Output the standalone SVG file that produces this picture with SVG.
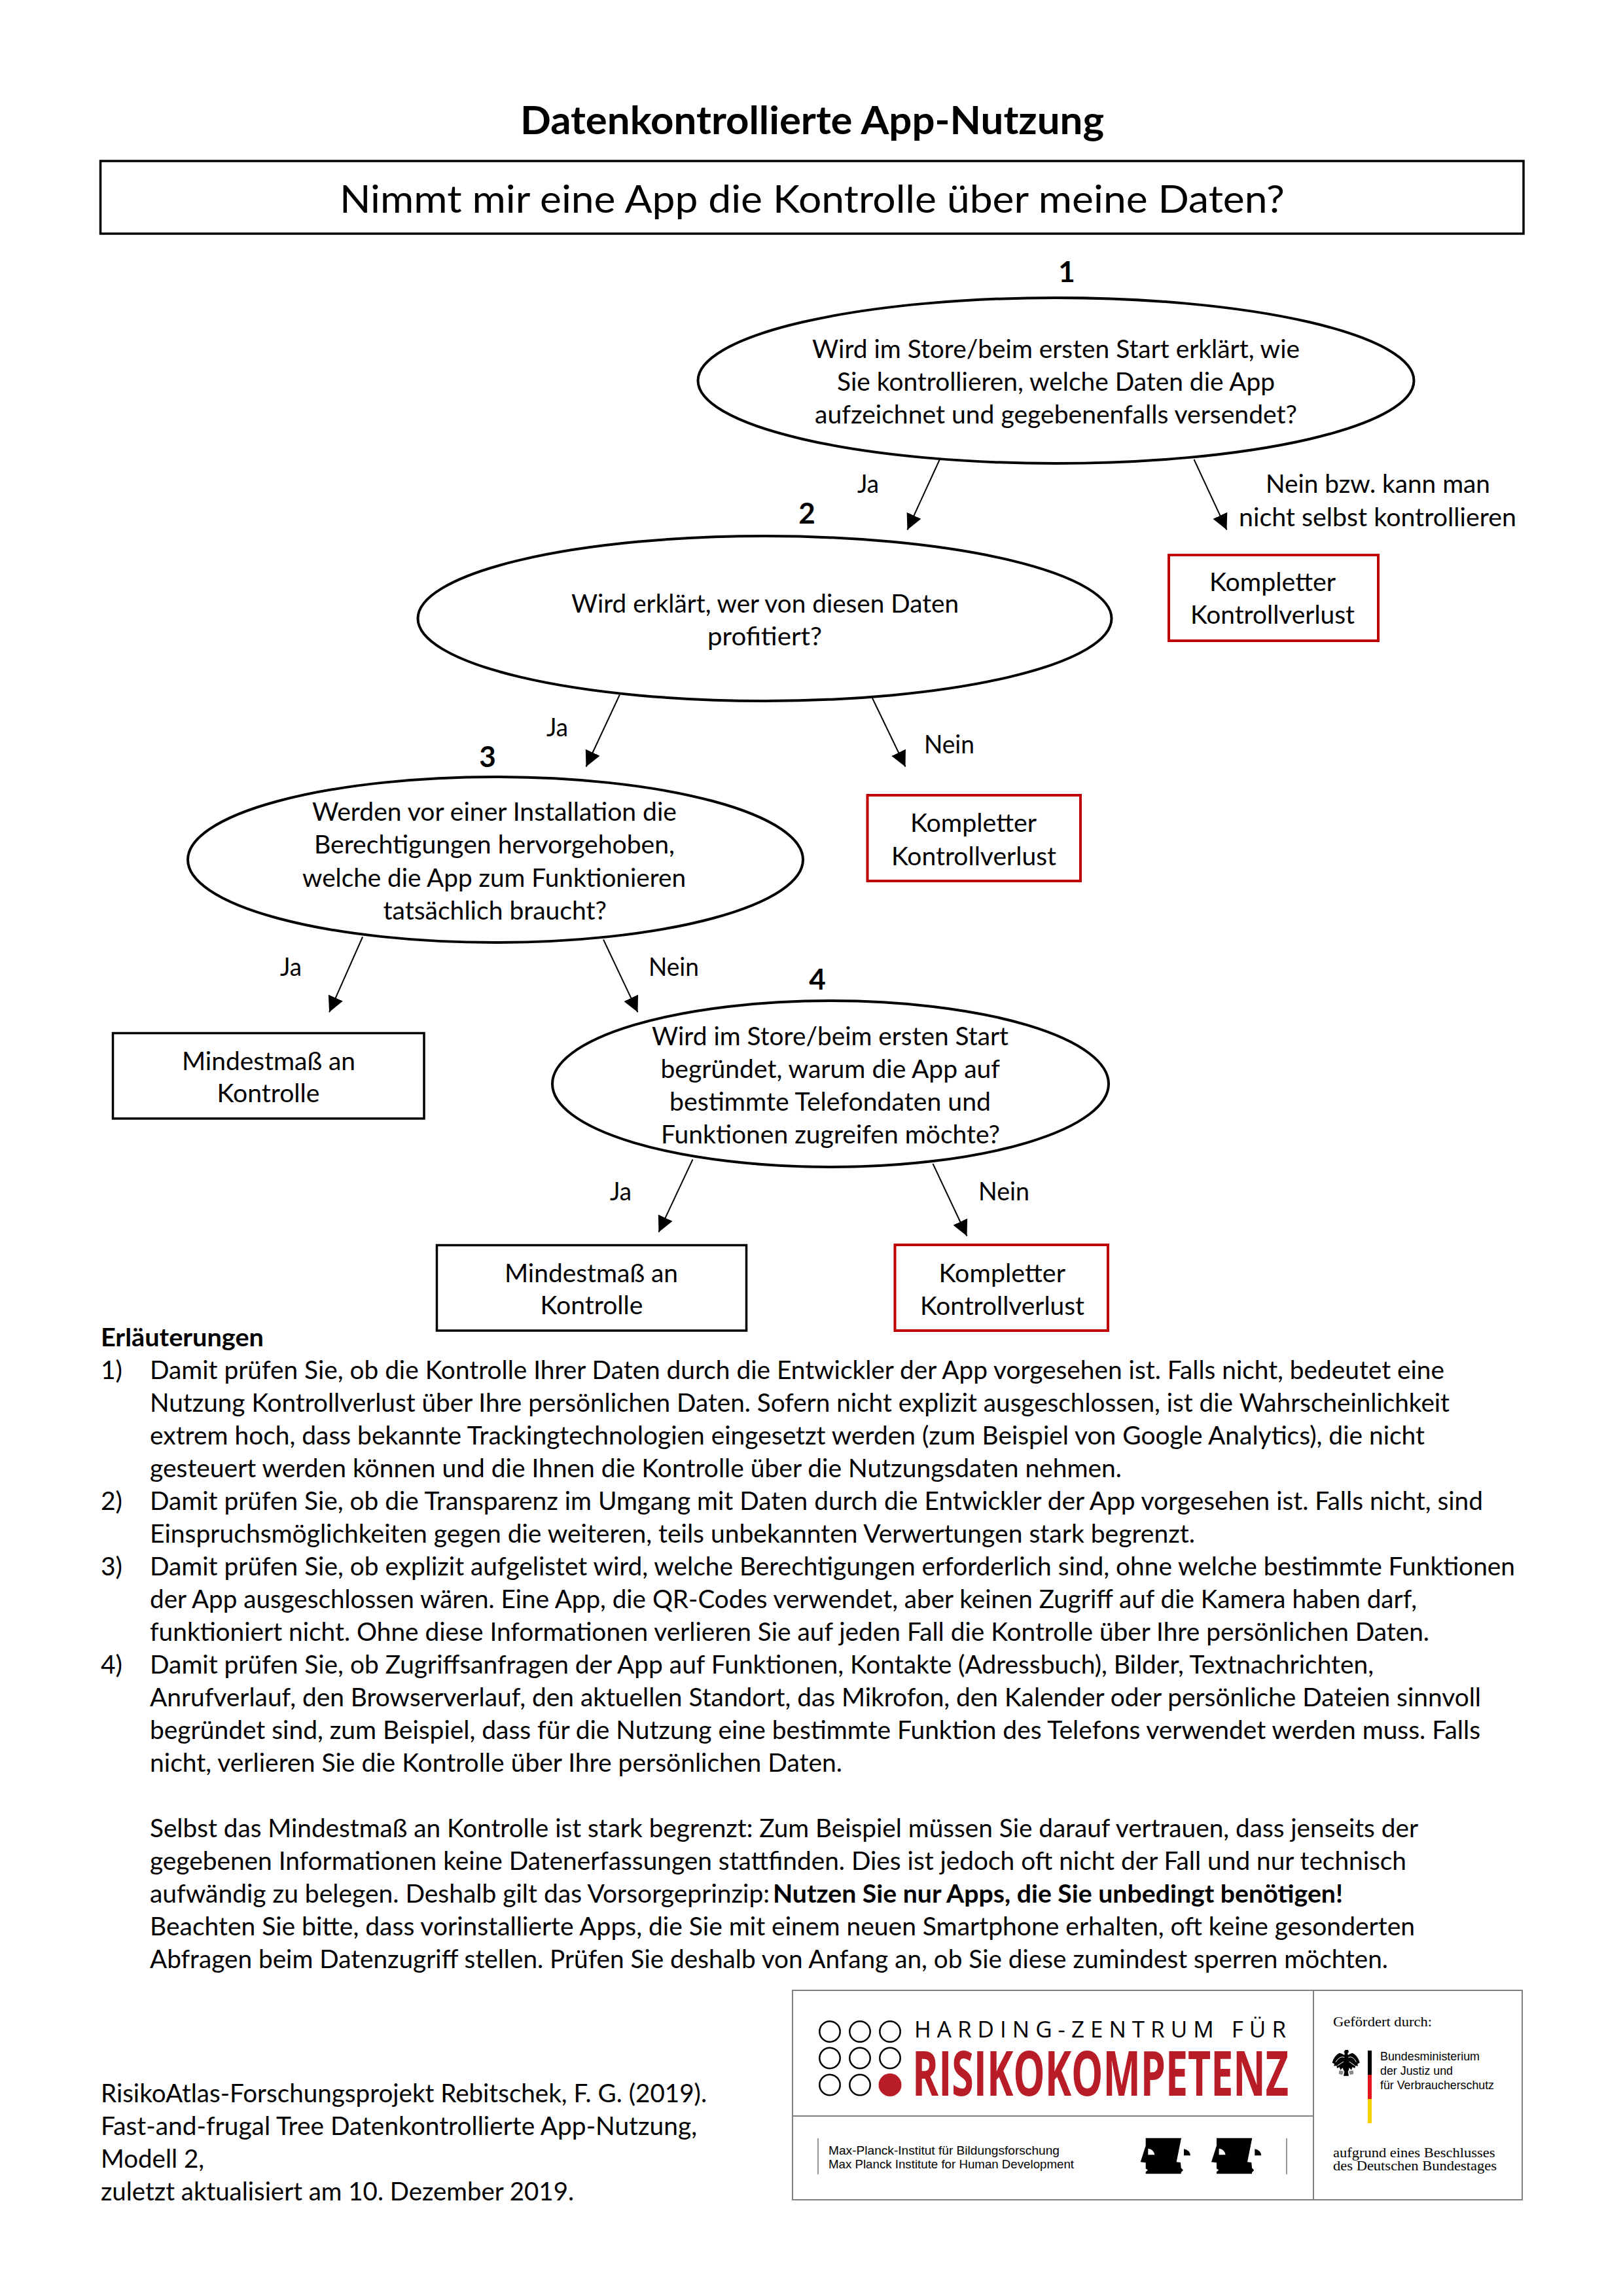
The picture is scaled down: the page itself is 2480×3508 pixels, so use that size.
<svg xmlns="http://www.w3.org/2000/svg" width="2480" height="3508" viewBox="0 0 2480 3508">
<style>
text{font-family:Lato,"Liberation Sans",sans-serif;font-size:38px;fill:#000;transform:translate(1px,1.5px)}
#logos text{transform:none}
.b{font-weight:700}
.t{font-size:59px}
.n{font-size:44px;font-weight:700;text-anchor:middle}
.e{fill:#fff;stroke:#000;stroke-width:4}
.bk{fill:#fff;stroke:#000;stroke-width:3.5}
.rd{fill:#fff;stroke:#c00000;stroke-width:4}
.c{fill:none;stroke:#000;stroke-width:2;marker-end:url(#ah)}
.dot{fill:none;stroke:#000;stroke-width:2.5}
.ser{font-family:"Liberation Serif",serif;font-size:20px}
.san{font-family:"Liberation Sans",sans-serif;font-size:19px}
.rule{stroke:#808080;stroke-width:2;fill:none}
.thin{stroke:#555;stroke-width:1.2}
.wl{fill:none;stroke:#fff;stroke-width:3}
</style>
<defs>
<marker id="ah" markerUnits="userSpaceOnUse" markerWidth="24" markerHeight="24" refX="24" refY="12" orient="auto"><path d="M0,0L24,12L0,24z" fill="#000"/></marker>
<g id="face"><path d="M20.7,11.7H75L67.7,48.3L74,49L74.7,57.3L78,60.7L74.7,64.3V66.3H20.7V63.3L24,60.7L20.7,58.3V49.3L12.7,48.3L20.7,23.3z" fill="#000"/><path d="M24.3,27.7Q33,29 34.3,37.3H24.3z" fill="#fff"/><path d="M79,28.3Q88,30 89,38.3H79z" fill="#000"/></g>
</defs>
<rect width="2480" height="3508" fill="#fff"/>
<g id="header">
<text class="t b" x="794" y="203" textLength="892" lengthAdjust="spacingAndGlyphs">Datenkontrollierte App-Nutzung</text>
<rect class="bk" x="153.5" y="246" width="2174.5" height="111"/>
<text class="t" x="518" y="323" textLength="1444" lengthAdjust="spacingAndGlyphs">Nimmt mir eine App die Kontrolle über meine Daten?</text>
</g>
<g id="connectors" transform="translate(1.5 0.5)">
<line class="c" x1="1436" y1="698" x2="1385" y2="809"/>
<line class="c" x1="1823" y1="701.5" x2="1873" y2="809"/>
<line class="c" x1="945.4" y1="1061" x2="894" y2="1171"/>
<line class="c" x1="1329" y1="1061" x2="1382" y2="1171"/>
<line class="c" x1="552.6" y1="1431" x2="501.6" y2="1546"/>
<line class="c" x1="920.5" y1="1435" x2="973" y2="1546"/>
<line class="c" x1="1057" y1="1771" x2="1005" y2="1882"/>
<line class="c" x1="1424" y1="1777.5" x2="1476" y2="1888"/>
</g>
<g id="node1">
<text class="n" x="1629" y="429">1</text>
<ellipse class="e" cx="1613.5" cy="581.5" rx="547" ry="126.5"/>
<text x="1240" y="545" textLength="745" lengthAdjust="spacingAndGlyphs">Wird im Store/beim ersten Start erklärt, wie</text>
<text x="1278" y="595" textLength="669" lengthAdjust="spacingAndGlyphs">Sie kontrollieren, welche Daten die App</text>
<text x="1244" y="645" textLength="737" lengthAdjust="spacingAndGlyphs">aufzeichnet und gegebenenfalls versendet?</text>
</g>
<g id="node2">
<text class="n" x="1232" y="798">2</text>
<ellipse class="e" cx="1168.5" cy="945" rx="530" ry="126"/>
<text x="872" y="934" textLength="592" lengthAdjust="spacingAndGlyphs">Wird erklärt, wer von diesen Daten</text>
<text x="1080" y="984" textLength="175" lengthAdjust="spacingAndGlyphs">profitiert?</text>
</g>
<g id="node3">
<text class="n" x="744" y="1170">3</text>
<ellipse class="e" cx="757" cy="1313.5" rx="470" ry="126.5"/>
<text x="476" y="1252.5" textLength="557" lengthAdjust="spacingAndGlyphs">Werden vor einer Installation die</text>
<text x="479" y="1302.5" textLength="551" lengthAdjust="spacingAndGlyphs">Berechtigungen hervorgehoben,</text>
<text x="461" y="1353" textLength="586" lengthAdjust="spacingAndGlyphs">welche die App zum Funktionieren</text>
<text x="584.5" y="1403" textLength="341.5" lengthAdjust="spacingAndGlyphs">tatsächlich braucht?</text>
</g>
<g id="node4">
<text class="n" x="1248" y="1510">4</text>
<ellipse class="e" cx="1269" cy="1656" rx="425" ry="127"/>
<text x="995" y="1595" textLength="545" lengthAdjust="spacingAndGlyphs">Wird im Store/beim ersten Start</text>
<text x="1008.5" y="1645.5" textLength="518.5" lengthAdjust="spacingAndGlyphs">begründet, warum die App auf</text>
<text x="1022" y="1695" textLength="491" lengthAdjust="spacingAndGlyphs">bestimmte Telefondaten und</text>
<text x="1009" y="1745" textLength="518" lengthAdjust="spacingAndGlyphs">Funktionen zugreifen möchte?</text>
</g>
<g id="result-k1">
<rect class="rd" x="1786" y="848" width="320" height="131"/>
<text x="1847" y="901" textLength="193" lengthAdjust="spacingAndGlyphs">Kompletter</text>
<text x="1818" y="951.5" textLength="251" lengthAdjust="spacingAndGlyphs">Kontrollverlust</text>
</g>
<g id="result-k2">
<rect class="rd" x="1325.5" y="1215" width="325.5" height="131"/>
<text x="1390" y="1269" textLength="193" lengthAdjust="spacingAndGlyphs">Kompletter</text>
<text x="1361" y="1320" textLength="252" lengthAdjust="spacingAndGlyphs">Kontrollverlust</text>
</g>
<g id="result-k3">
<rect class="rd" x="1367.5" y="1902" width="325.5" height="131"/>
<text x="1433.5" y="1957" textLength="193.5" lengthAdjust="spacingAndGlyphs">Kompletter</text>
<text x="1405" y="2007" textLength="251" lengthAdjust="spacingAndGlyphs">Kontrollverlust</text>
</g>
<g id="result-m1">
<rect class="bk" x="172.5" y="1578.5" width="475.5" height="130.5"/>
<text x="277" y="1633" textLength="265" lengthAdjust="spacingAndGlyphs">Mindestmaß an</text>
<text x="330.5" y="1682" textLength="157" lengthAdjust="spacingAndGlyphs">Kontrolle</text>
</g>
<g id="result-m2">
<rect class="bk" x="667.5" y="1902.5" width="473" height="130.5"/>
<text x="770" y="1957" textLength="265" lengthAdjust="spacingAndGlyphs">Mindestmaß an</text>
<text x="824.5" y="2006" textLength="157" lengthAdjust="spacingAndGlyphs">Kontrolle</text>
</g>
<g id="edge-labels">
<text x="1309" y="751" textLength="33" lengthAdjust="spacingAndGlyphs">Ja</text>
<text x="1933" y="751" textLength="343" lengthAdjust="spacingAndGlyphs">Nein bzw. kann man</text>
<text x="1892" y="802" textLength="424" lengthAdjust="spacingAndGlyphs">nicht selbst kontrollieren</text>
<text x="834" y="1123" textLength="33" lengthAdjust="spacingAndGlyphs">Ja</text>
<text x="1411" y="1149" textLength="77" lengthAdjust="spacingAndGlyphs">Nein</text>
<text x="427" y="1489" textLength="33" lengthAdjust="spacingAndGlyphs">Ja</text>
<text x="990" y="1489" textLength="77" lengthAdjust="spacingAndGlyphs">Nein</text>
<text x="931" y="1832" textLength="33" lengthAdjust="spacingAndGlyphs">Ja</text>
<text x="1494" y="1832" textLength="78" lengthAdjust="spacingAndGlyphs">Nein</text>
</g>
<g id="explanations">
<text class="b" x="153" y="2055" textLength="249" lengthAdjust="spacingAndGlyphs">Erläuterungen</text>
<text x="153" y="2105" textLength="33" lengthAdjust="spacingAndGlyphs">1)</text>
<text x="228" y="2105" textLength="1978" lengthAdjust="spacingAndGlyphs">Damit prüfen Sie, ob die Kontrolle Ihrer Daten durch die Entwickler der App vorgesehen ist. Falls nicht, bedeutet eine</text>
<text x="228" y="2155" textLength="1986" lengthAdjust="spacingAndGlyphs">Nutzung Kontrollverlust über Ihre persönlichen Daten. Sofern nicht explizit ausgeschlossen, ist die Wahrscheinlichkeit</text>
<text x="228" y="2205" textLength="1948" lengthAdjust="spacingAndGlyphs">extrem hoch, dass bekannte Trackingtechnologien eingesetzt werden (zum Beispiel von Google Analytics), die nicht</text>
<text x="228" y="2255" textLength="1485" lengthAdjust="spacingAndGlyphs">gesteuert werden können und die Ihnen die Kontrolle über die Nutzungsdaten nehmen.</text>
<text x="153" y="2305" textLength="33" lengthAdjust="spacingAndGlyphs">2)</text>
<text x="228" y="2305" textLength="2037" lengthAdjust="spacingAndGlyphs">Damit prüfen Sie, ob die Transparenz im Umgang mit Daten durch die Entwickler der App vorgesehen ist. Falls nicht, sind</text>
<text x="228" y="2355" textLength="1597" lengthAdjust="spacingAndGlyphs">Einspruchsmöglichkeiten gegen die weiteren, teils unbekannten Verwertungen stark begrenzt.</text>
<text x="153" y="2405" textLength="33" lengthAdjust="spacingAndGlyphs">3)</text>
<text x="228" y="2405" textLength="2086" lengthAdjust="spacingAndGlyphs">Damit prüfen Sie, ob explizit aufgelistet wird, welche Berechtigungen erforderlich sind, ohne welche bestimmte Funktionen</text>
<text x="228" y="2455" textLength="1936" lengthAdjust="spacingAndGlyphs">der App ausgeschlossen wären. Eine App, die QR-Codes verwendet, aber keinen Zugriff auf die Kamera haben darf,</text>
<text x="228" y="2505" textLength="1955" lengthAdjust="spacingAndGlyphs">funktioniert nicht. Ohne diese Informationen verlieren Sie auf jeden Fall die Kontrolle über Ihre persönlichen Daten.</text>
<text x="153" y="2555" textLength="33" lengthAdjust="spacingAndGlyphs">4)</text>
<text x="228" y="2555" textLength="1870" lengthAdjust="spacingAndGlyphs">Damit prüfen Sie, ob Zugriffsanfragen der App auf Funktionen, Kontakte (Adressbuch), Bilder, Textnachrichten,</text>
<text x="228" y="2605" textLength="2034" lengthAdjust="spacingAndGlyphs">Anrufverlauf, den Browserverlauf, den aktuellen Standort, das Mikrofon, den Kalender oder persönliche Dateien sinnvoll</text>
<text x="228" y="2655" textLength="2033" lengthAdjust="spacingAndGlyphs">begründet sind, zum Beispiel, dass für die Nutzung eine bestimmte Funktion des Telefons verwendet werden muss. Falls</text>
<text x="228" y="2705" textLength="1058" lengthAdjust="spacingAndGlyphs">nicht, verlieren Sie die Kontrolle über Ihre persönlichen Daten.</text>
<text x="228" y="2805" textLength="1938" lengthAdjust="spacingAndGlyphs">Selbst das Mindestmaß an Kontrolle ist stark begrenzt: Zum Beispiel müssen Sie darauf vertrauen, dass jenseits der</text>
<text x="228" y="2855" textLength="1920" lengthAdjust="spacingAndGlyphs">gegebenen Informationen keine Datenerfassungen stattfinden. Dies ist jedoch oft nicht der Fall und nur technisch</text>
<text x="228" y="2905" textLength="947" lengthAdjust="spacingAndGlyphs">aufwändig zu belegen. Deshalb gilt das Vorsorgeprinzip:</text>
<text class="b" x="1180" y="2905" textLength="871" lengthAdjust="spacingAndGlyphs">Nutzen Sie nur Apps, die Sie unbedingt benötigen!</text>
<text x="228" y="2955" textLength="1933" lengthAdjust="spacingAndGlyphs">Beachten Sie bitte, dass vorinstallierte Apps, die Sie mit einem neuen Smartphone erhalten, oft keine gesonderten</text>
<text x="228" y="3005" textLength="1892" lengthAdjust="spacingAndGlyphs">Abfragen beim Datenzugriff stellen. Prüfen Sie deshalb von Anfang an, ob Sie diese zumindest sperren möchten.</text>
</g>
<g id="citation">
<text x="153" y="3210" textLength="926" lengthAdjust="spacingAndGlyphs">RisikoAtlas-Forschungsprojekt Rebitschek, F. G. (2019).</text>
<text x="153" y="3260" textLength="911" lengthAdjust="spacingAndGlyphs">Fast-and-frugal Tree Datenkontrollierte App-Nutzung,</text>
<text x="153" y="3310" textLength="158" lengthAdjust="spacingAndGlyphs">Modell 2,</text>
<text x="153" y="3360" textLength="723" lengthAdjust="spacingAndGlyphs">zuletzt aktualisiert am 10. Dezember 2019.</text>
</g>
<g id="logos">
<rect x="1211" y="3041" width="1115" height="320" fill="#fdfdfd" class="rule"/>
<line class="rule" x1="2007" y1="3041" x2="2007" y2="3361"/>
<line class="rule" x1="1211" y1="3233" x2="2007" y2="3233"/>
<circle class="dot" cx="1268" cy="3104" r="15.7"/><circle class="dot" cx="1314" cy="3104" r="15.7"/><circle class="dot" cx="1360" cy="3104" r="15.7"/>
<circle class="dot" cx="1268" cy="3144.5" r="15.7"/><circle class="dot" cx="1314" cy="3144.5" r="15.7"/><circle class="dot" cx="1360" cy="3144.5" r="15.7"/>
<circle class="dot" cx="1268" cy="3185.5" r="15.7"/><circle class="dot" cx="1314" cy="3185.5" r="15.7"/><circle cx="1360" cy="3185.5" r="17.5" fill="#b81c26"/>
<text x="1397" y="3113" style="font-family:'Open Sans',sans-serif;font-size:35px" textLength="568">HARDING-ZENTRUM FÜR</text>
<text x="1394" y="3202" style="font-family:'Open Sans',sans-serif;font-size:95px;font-weight:700;fill:#b81c26" textLength="575" lengthAdjust="spacingAndGlyphs">RISIKOKOMPETENZ</text>
<line class="thin" x1="1250" y1="3267" x2="1250" y2="3322"/>
<text class="san" x="1266" y="3292" textLength="353" lengthAdjust="spacingAndGlyphs">Max-Planck-Institut für Bildungsforschung</text>
<text class="san" x="1266" y="3313" textLength="375" lengthAdjust="spacingAndGlyphs">Max Planck Institute for Human Development</text>
<use href="#face" x="1730" y="3255"/>
<use href="#face" x="1838.3" y="3255"/>
<line class="thin" x1="1966" y1="3267" x2="1966" y2="3322"/>
<text class="ser" x="2037" y="3096" textLength="151" lengthAdjust="spacingAndGlyphs">Gefördert durch:</text>
<g transform="translate(2025 3120) scale(.3333)">
<path fill="#000" d="M92,36L105,36L108,46L103,50L104,60Q112,52 125,50Q150,62 158,95L148,100L150,110L138,108L136,120L125,115L120,128L110,118L108,128L104,135L108,155L84,155L88,135L84,128L80,118L70,128L65,115L54,120L52,108L40,110L42,100L32,95Q40,62 65,50Q78,52 88,60L89,50L85,46z"/>
<path class="wl" d="M106,70Q128,62 142,92M88,70Q66,62 48,92M110,90L136,108M84,90L56,108"/>
<path fill="#888" d="M64,130L84,134L78,150L62,146zM128,130L108,134L114,150L130,146z"/>
</g>
<rect x="2090" y="3133" width="6" height="37" fill="#000"/>
<rect x="2090" y="3170" width="6" height="37" fill="#e3161f"/>
<rect x="2090" y="3207" width="6" height="37" fill="#f5d000"/>
<text class="san" x="2109" y="3148" textLength="152" lengthAdjust="spacingAndGlyphs">Bundesministerium</text>
<text class="san" x="2109" y="3170" textLength="111" lengthAdjust="spacingAndGlyphs">der Justiz und</text>
<text class="san" x="2109" y="3192" textLength="174" lengthAdjust="spacingAndGlyphs">für Verbraucherschutz</text>
<text class="ser" x="2037" y="3296" textLength="247.5" lengthAdjust="spacingAndGlyphs">aufgrund eines Beschlusses</text>
<text class="ser" x="2037" y="3316" textLength="250" lengthAdjust="spacingAndGlyphs">des Deutschen Bundestages</text>
</g>
</svg>
